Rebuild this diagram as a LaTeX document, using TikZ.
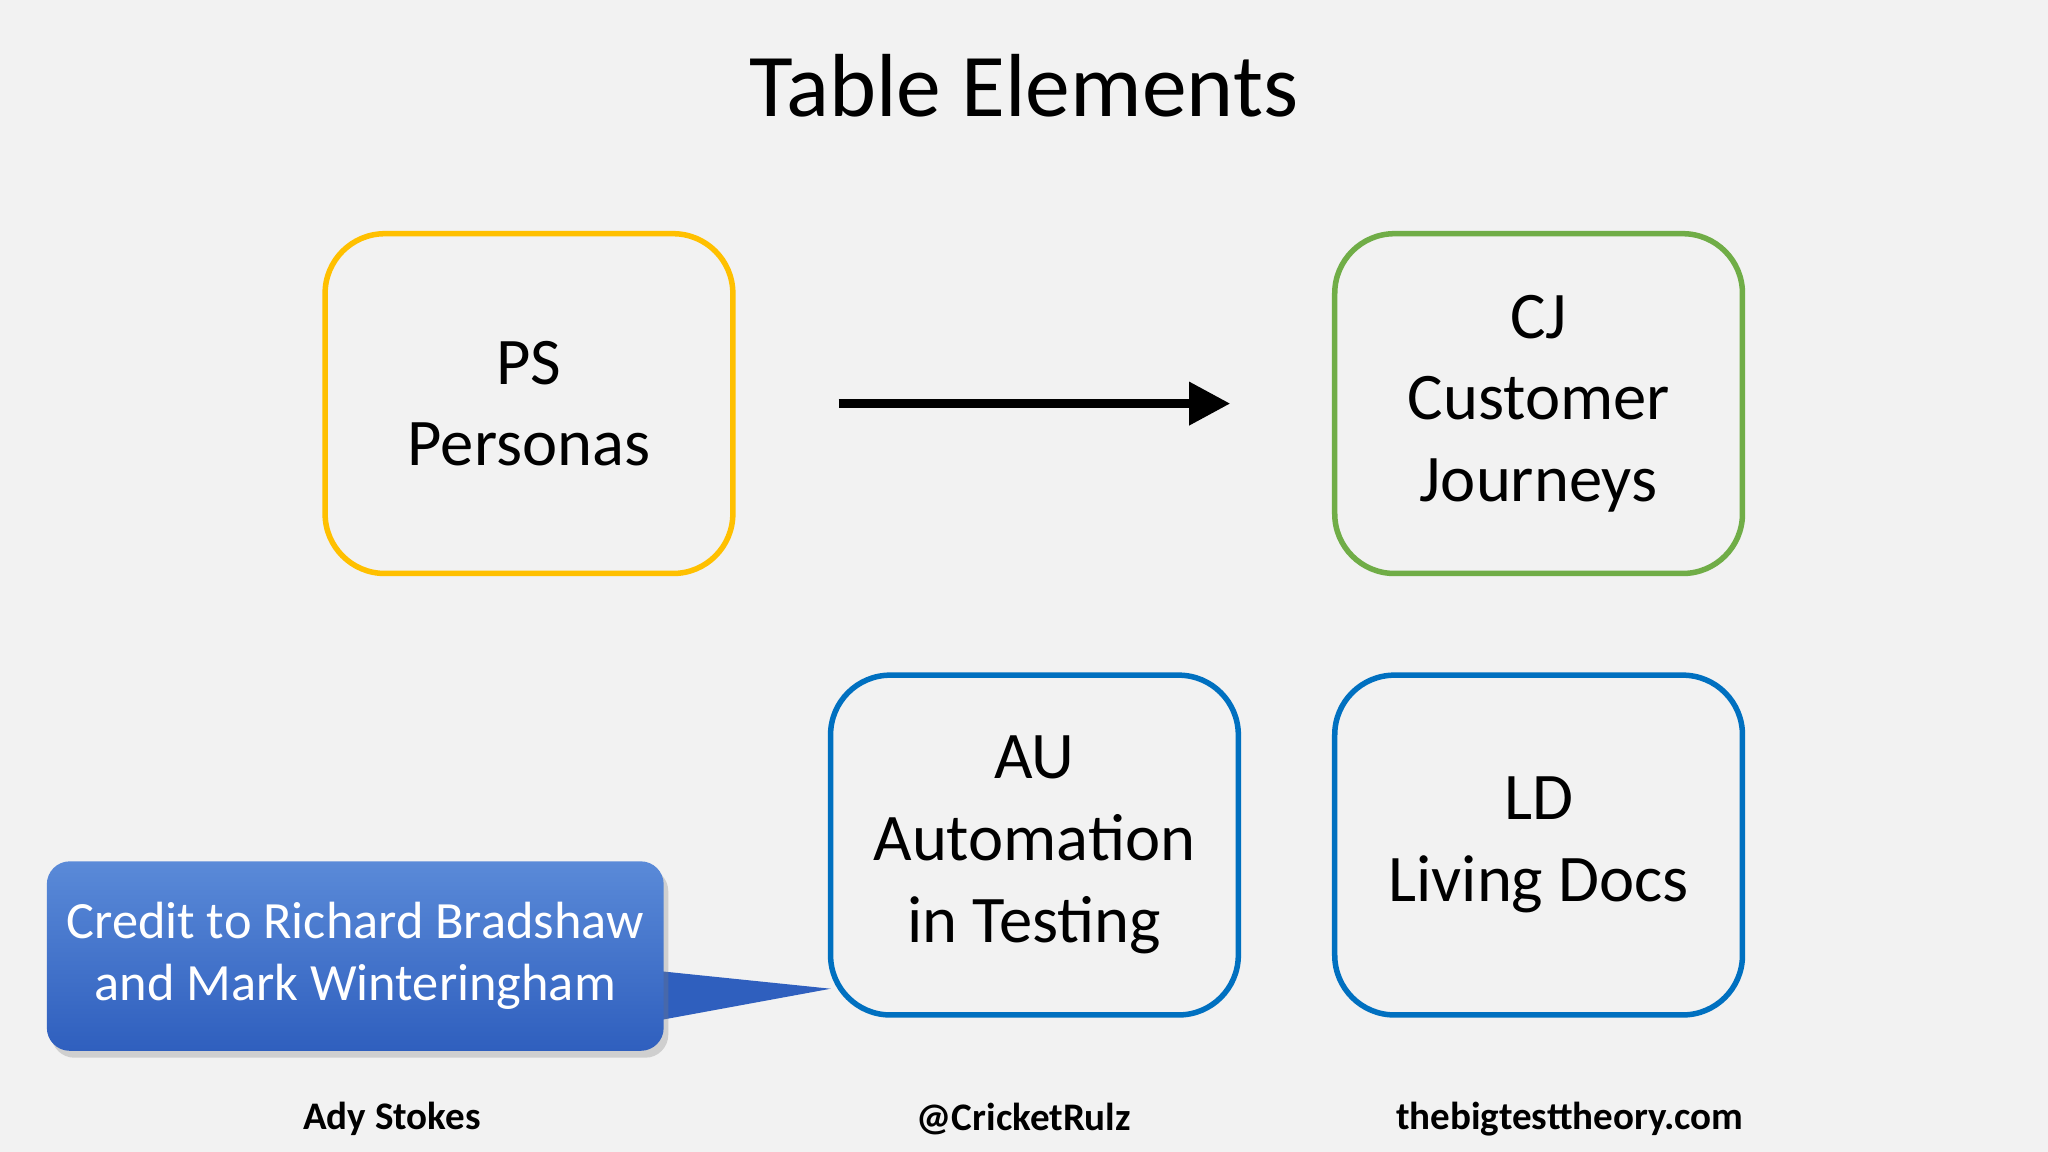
\documentclass[tikz,border=0pt]{standalone}
\usepackage{fontspec}
\setmainfont{Carlito}
\usetikzlibrary{arrows.meta,shadows}
\definecolor{bg}{HTML}{F2F2F2}
\definecolor{yel}{HTML}{FFC000}
\definecolor{grn}{HTML}{70AD47}
\definecolor{blu}{HTML}{0070C0}
\definecolor{ctop}{HTML}{5A8AD8}
\definecolor{cbot}{HTML}{2F5FBE}
\begin{document}
\begin{tikzpicture}[x=0.01cm,y=-0.01cm,
  box/.style={draw,line width=1.2pt,rounded corners=13pt,minimum width=3.12cm,minimum height=2.6cm,align=center,font=\fontsize{14.5}{17.8}\selectfont,inner sep=0pt},
  foot/.style={font=\fontsize{8.5}{10}\selectfont\bfseries}]
\useasboundingbox[fill=bg] (0,0) rectangle (1568,882);
\node[font=\fontsize{19.5}{23}\selectfont] (t) at (784,66) {Table Elements};
\node[box,draw=yel] (ps) at (405,309) {PS\\Personas};
\node[box,draw=grn] (cj) at (1178,309) {CJ\\Customer\\Journeys};
\node[box,draw=blu] (au) at (792,647) {AU\\Automation\\in Testing};
\node[box,draw=blu] (ld) at (1178,647) {LD\\Living Docs};
\coordinate (a1) at (642,309);
\coordinate (a2) at (942,309);
\draw[line width=2pt,-{Triangle[length=9pt,width=9pt]}] (a1) -- (a2);
\coordinate (tip) at (636,757);
\fill[cbot] (500,743) -- (tip) -- (500,782) -- cycle;
\node[rounded corners=5pt,top color=ctop,bottom color=cbot,minimum width=4.72cm,minimum height=1.45cm,inner sep=0pt,
  drop shadow={opacity=0.3,shadow xshift=1pt,shadow yshift=-1.5pt},text=white,align=center,
  font=\fontsize{11.4}{13.6}\selectfont] (cr) at (272,732) {Credit to Richard Bradshaw\\and Mark Winteringham};
\node[foot] (f1) at (300,857) {Ady Stokes};
\node[foot] (f2) at (784,857) {@CricketRulz};
\node[foot] (f3) at (1202,857) {thebigtesttheory.com};
\end{tikzpicture}
\end{document}
